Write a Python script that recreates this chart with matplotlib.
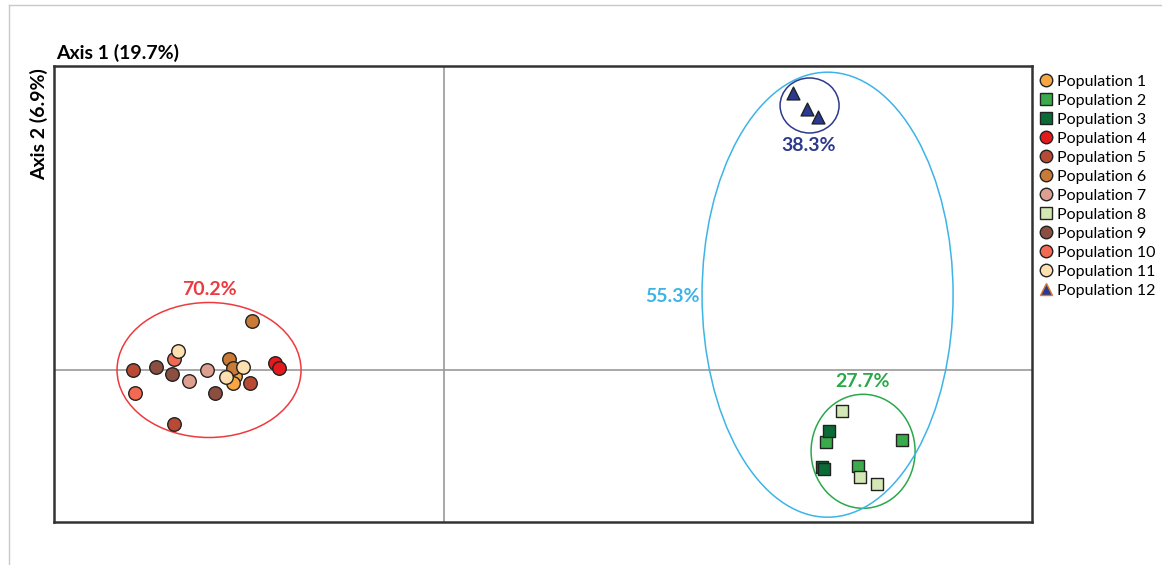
# PCoA plot, 12 populations

import matplotlib
import matplotlib.pyplot as plt
from matplotlib.patches import Ellipse
from matplotlib.lines import Line2D

matplotlib.rcParams['font.family'] = ['Lato', 'DejaVu Sans']

# coordinates per population (axis 1, axis 2)
pop_names = ["Population %d" % i for i in range(1, 13)]
pop_x = [
    [-2.09, -2.11],                 # 1
    [3.82, 4.58, 4.14],             # 2
    [3.85, 3.78, 3.80],             # 3
    [-1.69, -1.65],                 # 4
    [-3.11, -2.70, -1.94],          # 5
    [-2.15, -2.11, -1.92],          # 6
    [-2.55, -2.37],                 # 7
    [3.98, 4.16, 4.33],             # 8
    [-2.88, -2.72, -2.29],          # 9
    [-3.09, -2.70],                 # 10
    [-2.66, -2.01, -2.18],          # 11
    [3.49, 3.63, 3.74],             # 12
]
pop_y = [
    [-0.06, -0.13],
    [-0.72, -0.70, -0.96],
    [-0.61, -0.97, -0.99],
    [0.07, 0.02],
    [0.00, -0.54, -0.13],
    [0.11, 0.02, 0.49],
    [-0.11, 0.00],
    [-0.41, -1.07, -1.14],
    [0.03, -0.04, -0.23],
    [-0.23, 0.11],
    [0.19, 0.03, -0.07],
    [2.77, 2.61, 2.53],
]
pop_colors = ["#F7A643", "#3BAA4A", "#0B6B37", "#E41A1C", "#B84A33", "#C87A36",
              "#DDA090", "#D3E8B4", "#8C4F3F", "#F26A52", "#FDDFB0", "#2B3990"]
pop_markers = ["o", "s", "s", "o", "o", "o", "o", "s", "o", "o", "o", "^"]

# cluster ellipses: centre x, centre y, width, height, label, label position
ell_cx = [-2.35, 4.19, 3.835, 3.655]
ell_cy = [0.0, -0.813, 0.753, 2.645]
ell_w = [1.84, 1.04, 2.51, 0.59]
ell_h = [1.35, 1.14, 4.45, 0.55]
ell_labels = ["70.2%", "27.7%", "55.3%", "38.3%"]
ell_lx = [-2.35, 4.18, 2.28, 3.65]
ell_ly = [0.80, -0.12, 0.73, 2.24]
ell_colors = ["#EE3A3F", "#2BA84A", "#3DB4E8", "#2E3A8C"]

fig = plt.figure(figsize=(11.62, 5.65), dpi=100)
ax = fig.add_axes([0.0465, 0.0761, 0.8417, 0.8071])
ax.set_xlim(-3.90, 5.88)
ax.set_ylim(-1.52, 3.04)
ax.set_xticks([])
ax.set_yticks([])
for s in ax.spines.values():
    s.set_color("#333333")
    s.set_linewidth(1.8)

ax.axhline(0, color="#9a9a9a", lw=1.2, zorder=1)
ax.axvline(0, color="#9a9a9a", lw=1.2, zorder=1)

for cx, cy, w, h, lab, lx, ly, c in zip(ell_cx, ell_cy, ell_w, ell_h,
                                         ell_labels, ell_lx, ell_ly, ell_colors):
    ax.add_patch(Ellipse((cx, cy), w, h, fill=False, edgecolor=c, lw=1.1, zorder=2))
    ax.text(lx, ly, lab, color=c, fontsize=14, fontweight='bold',
            ha='center', va='center', zorder=5)

for name, xs, ys, c, m in zip(pop_names, pop_x, pop_y, pop_colors, pop_markers):
    size = 95 if m == "o" else 85
    ax.scatter(xs, ys, s=size, c=c, marker=m, edgecolors="#222222",
               linewidths=1.0, zorder=4)

handles = []
for name, c, m in zip(pop_names, pop_colors, pop_markers):
    ec = "#E07A20" if m == "^" else "#222222"
    handles.append(Line2D([], [], ls='none', marker=m, markersize=9,
                          markerfacecolor=c, markeredgecolor=ec,
                          markeredgewidth=1.0, label=name))
fig.legend(handles=handles, loc='upper left', bbox_to_anchor=(0.887, 0.879),
           frameon=False, fontsize=11.5, handletextpad=0.15, labelspacing=0.3,
           borderaxespad=0, handlelength=1.1)

fig.text(0.048, 0.89, "Axis 1 (19.7%)", fontsize=14, fontweight='bold',
         ha='left', va='bottom')
fig.text(0.034, 0.88, "Axis 2 (6.9%)", fontsize=14, fontweight='bold',
         ha='center', va='top', rotation=90)

# thin outer frame (top and left)
fig.add_artist(Line2D([0.0077, 1.0], [0.991, 0.991], color="#c8c8c8", lw=1.0))
fig.add_artist(Line2D([0.0077, 0.0077], [0.0, 0.991], color="#c8c8c8", lw=1.0))

plt.savefig('out.png', dpi=100)
